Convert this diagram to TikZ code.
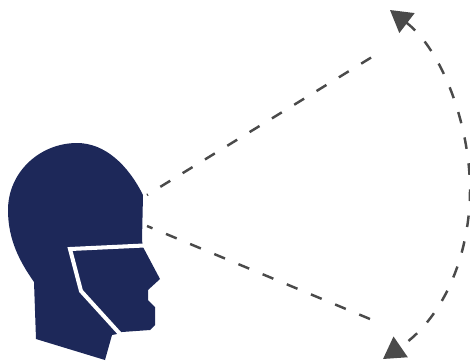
\documentclass[tikz,border=0pt]{standalone}
\usepackage{xcolor}
\usetikzlibrary{arrows.meta}
\definecolor{headblue}{HTML}{1D2859}
\definecolor{raygray}{HTML}{4A4A4A}
\tikzset{
  headfill/.style={fill=headblue,draw=none},
  maskline/.style={draw=white,line width=2.3pt,line join=miter},
  viewray/.style={draw=raygray,line width=1.4pt,dash pattern=on 6.6pt off 8.3pt},
  viewarc/.style={viewray,{Triangle[length=12.2pt,width=14pt]}-{Triangle[length=12.2pt,width=14pt]}}
}

\begin{document}
\begin{tikzpicture}[x=0.02cm,y=-0.02cm]
  \useasboundingbox (0,0) rectangle (470,360);
  \coordinate (raytop) at (147,195);
  \coordinate (raytopend) at (372,57);
  \coordinate (raylow) at (147,226);
  \coordinate (raylowend) at (370,319);
  \coordinate (arctop) at (390,10);
  \coordinate (arcmid) at (470,190);
  \coordinate (arclow) at (383,359);
  % head
  \path[headfill] (77,143) .. controls (105,143) and (128,165) .. (143,195)
    -- (142,240) -- (143,247) -- (160,279) -- (148,290) -- (148,300) -- (155,307)
    -- (155,325) -- (150,330) -- (122,332) -- (117,334) -- (112,335) -- (105,360)
    -- (36,339) -- (34,282) .. controls (20,262) and (8,240) .. (8,210)
    .. controls (8,172) and (40,143) .. (77,143) -- cycle;
  \draw[maskline] (144,245.5) -- (70,249) -- (81,291) -- (121,335);
  % rays
  \draw[viewray,dash phase=6pt] (raytop) -- (raytopend);
  \draw[viewray,dash phase=3.2pt] (raylow) -- (raylowend);
  \draw[viewarc] (arctop) .. controls (442,50) and (470,125) .. (arcmid)
    .. controls (470,250) and (447,315) .. (arclow);
\end{tikzpicture}
\end{document}
